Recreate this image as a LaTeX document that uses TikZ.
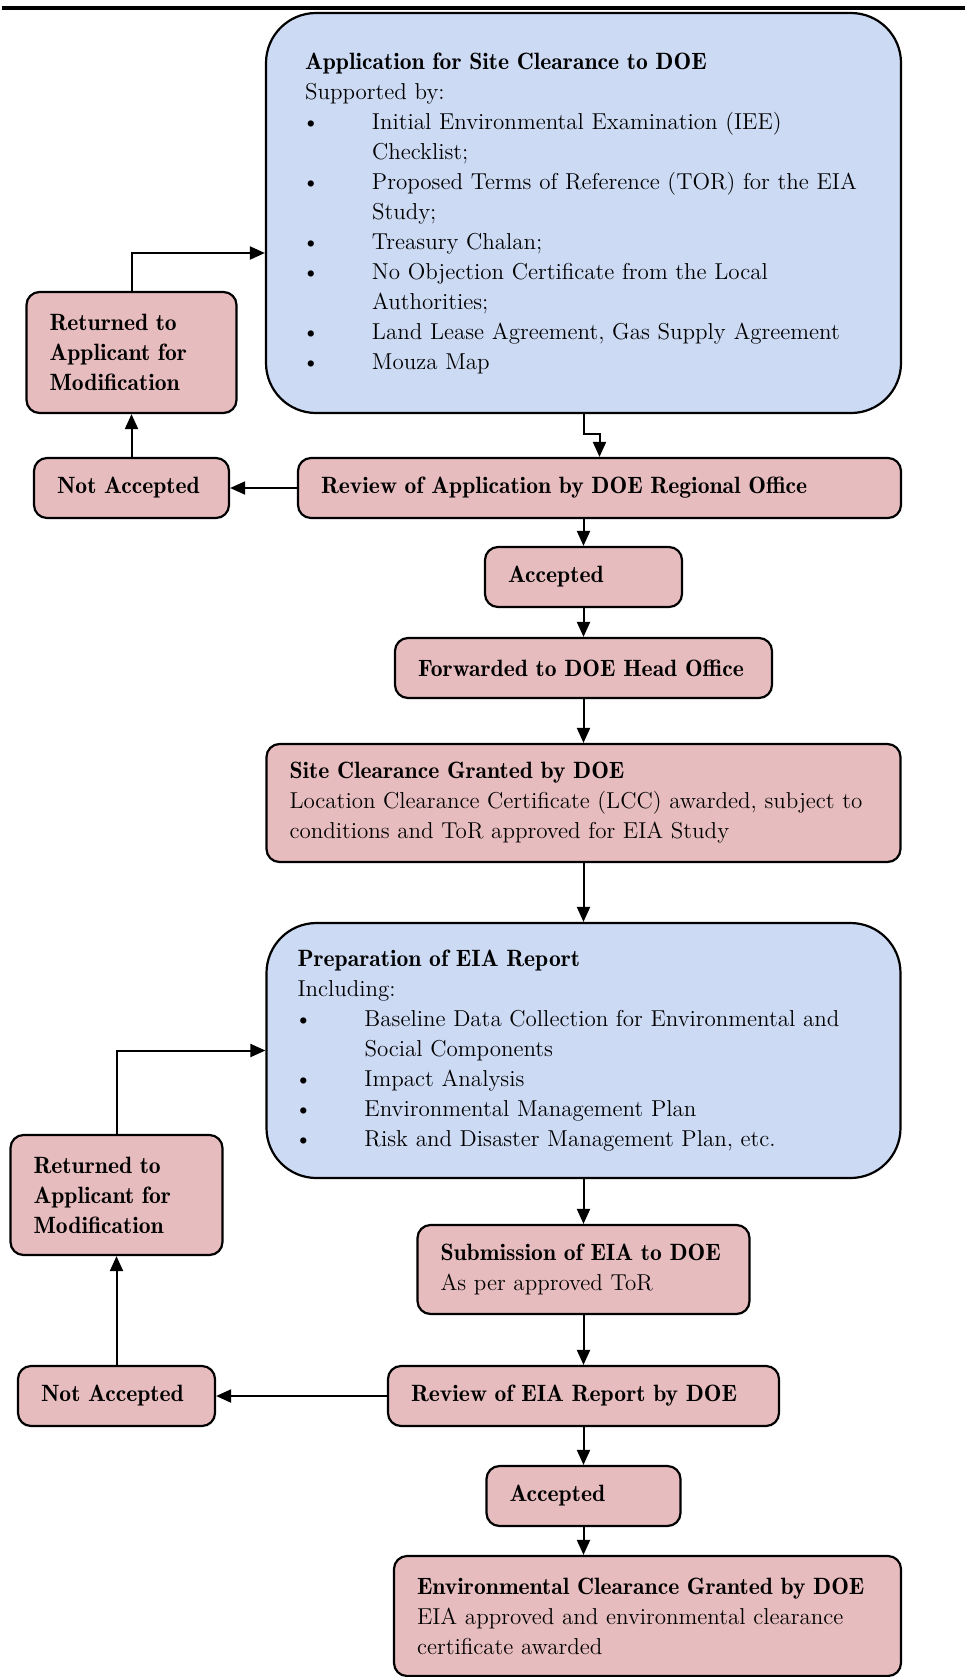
\documentclass[tikz,border=0pt]{standalone}
\usetikzlibrary{arrows.meta}

\definecolor{boxpink}{RGB}{231,188,190}
\definecolor{boxblue}{RGB}{204,218,244}
\newcommand{\bul}{\makebox[33.5pt][l]{\kern-1.5pt\textbullet}}
\newcommand{\ind}{\hspace*{33.5pt}}
\newcommand{\hd}[1]{\mbox{\fontsize{11.8}{15}\fontseries{b}\selectfont #1}}

\begin{document}
\begin{tikzpicture}[
    node distance=2cm,
    font=\fontsize{11.5}{15}\selectfont,
    block/.style={
        rectangle,
        draw,
        line width=1.1pt,
        fill=boxpink,
        rounded corners=6.5pt,
        inner xsep=11.5pt,
        inner ysep=0pt,
        align=left,
        minimum height=30pt
    },
    bigblock/.style={
        block,
        fill=boxblue,
        rounded corners=25pt
    },
    line/.style={
        draw, -{Triangle[length=7.5pt,width=6.5pt]}, line width=1pt
    }
]

\useasboundingbox (0,0) rectangle (482.5pt,-838.5pt);
\draw [line width=2pt] (1pt,-4pt) -- (482.5pt,-4pt);

% Nodes
\node [bigblock, inner xsep=19.5pt, text width=278.5pt, minimum height=200pt] (app) at (291.75pt,-106.5pt) {\hd{Application for Site Clearance to DOE}\\
Supported by:\\
\bul Initial Environmental Examination (IEE)\\
\ind Checklist;\\
\bul Proposed Terms of Reference (TOR) for the EIA\\
\ind Study;\\
\bul Treasury Chalan;\\
\bul No Objection Certificate from the Local\\
\ind Authorities;\\
\bul Land Lease Agreement, Gas Supply Agreement\\
\bul Mouza Map};
\node [block, below of=app, node distance=137.5pt, xshift=8pt, text width=278.5pt] (review1) {\hd{Review of Application by DOE Regional Office}};
\node [block, left of=review1, node distance=234pt, text width=74.5pt] (notacc1) {\hd{Not Accepted}};
\node [block, above of=notacc1, node distance=67.75pt, text width=82pt, minimum height=60.5pt] (returned1) {\hd{Returned to}\\ \hd{Applicant for}\\ \hd{Modification}};
\node [block, below of=app, node distance=182pt, text width=75.5pt] (accepted1) {\hd{Accepted}};
\node [block, below of=accepted1, node distance=45.5pt, text width=165.5pt] (forwarded) {\hd{Forwarded to DOE Head Office}};
\node [block, below of=forwarded, node distance=67.5pt, text width=294pt, minimum height=59pt] (site) {\hd{Site Clearance Granted by DOE}\\
Location Clearance Certificate (LCC) awarded, subject to\\
conditions and ToR approved for EIA Study};
\node [bigblock, below of=site, node distance=123.75pt, inner xsep=15.5pt, text width=286pt, minimum height=127.5pt] (prep) {\hd{Preparation of EIA Report}\\
Including:\\
\bul Baseline Data Collection for Environmental and\\
\ind Social Components\\
\bul Impact Analysis\\
\bul Environmental Management Plan\\
\bul Risk and Disaster Management Plan, etc.};
\node [block, below of=prep, node distance=109.5pt, text width=143pt, minimum height=44.5pt] (submission) {\hd{Submission of EIA to DOE}\\ As per approved ToR};
\node [block, below of=submission, node distance=63.25pt, text width=172.5pt] (review2) {\hd{Review of EIA Report by DOE}};
\node [block, left of=review2, node distance=233.5pt, text width=75.5pt] (notacc2) {\hd{Not Accepted}};
\node [block, above of=notacc2, node distance=100.5pt, text width=83pt, minimum height=60pt] (returned2) {\hd{Returned to}\\ \hd{Applicant for}\\ \hd{Modification}};
\node [block, below of=review2, node distance=50pt, text width=74pt] (accepted2) {\hd{Accepted}};
\node [block, below of=accepted2, node distance=60pt, xshift=32pt, text width=230.5pt, minimum height=60pt] (final) {\hd{Environmental Clearance Granted by DOE}\\
EIA approved and environmental clearance\\
certificate awarded};

% Arrows
\draw [line] (app.south) -- ++(0,-10pt) -| (review1.north);
\draw [line] (review1.west) -- (notacc1.east);
\draw [line] (notacc1.north) -- (returned1.south);
\draw [line] (returned1.north) |- ([yshift=-20pt]app.west);
\draw [line] (review1.south -| accepted1.north) -- (accepted1.north);
\draw [line] (accepted1) -- (forwarded);
\draw [line] (forwarded) -- (site);
\draw [line] (site) -- (prep);
\draw [line] (prep) -- (submission);
\draw [line] (submission) -- (review2);
\draw [line] (review2) -- (notacc2);
\draw [line] (notacc2) -- (returned2);
\draw [line] (returned2.north) |- (prep.west);
\draw [line] (review2) -- (accepted2);
\draw [line] (accepted2.south) -- (accepted2.south |- final.north);

\end{tikzpicture}
\end{document}
